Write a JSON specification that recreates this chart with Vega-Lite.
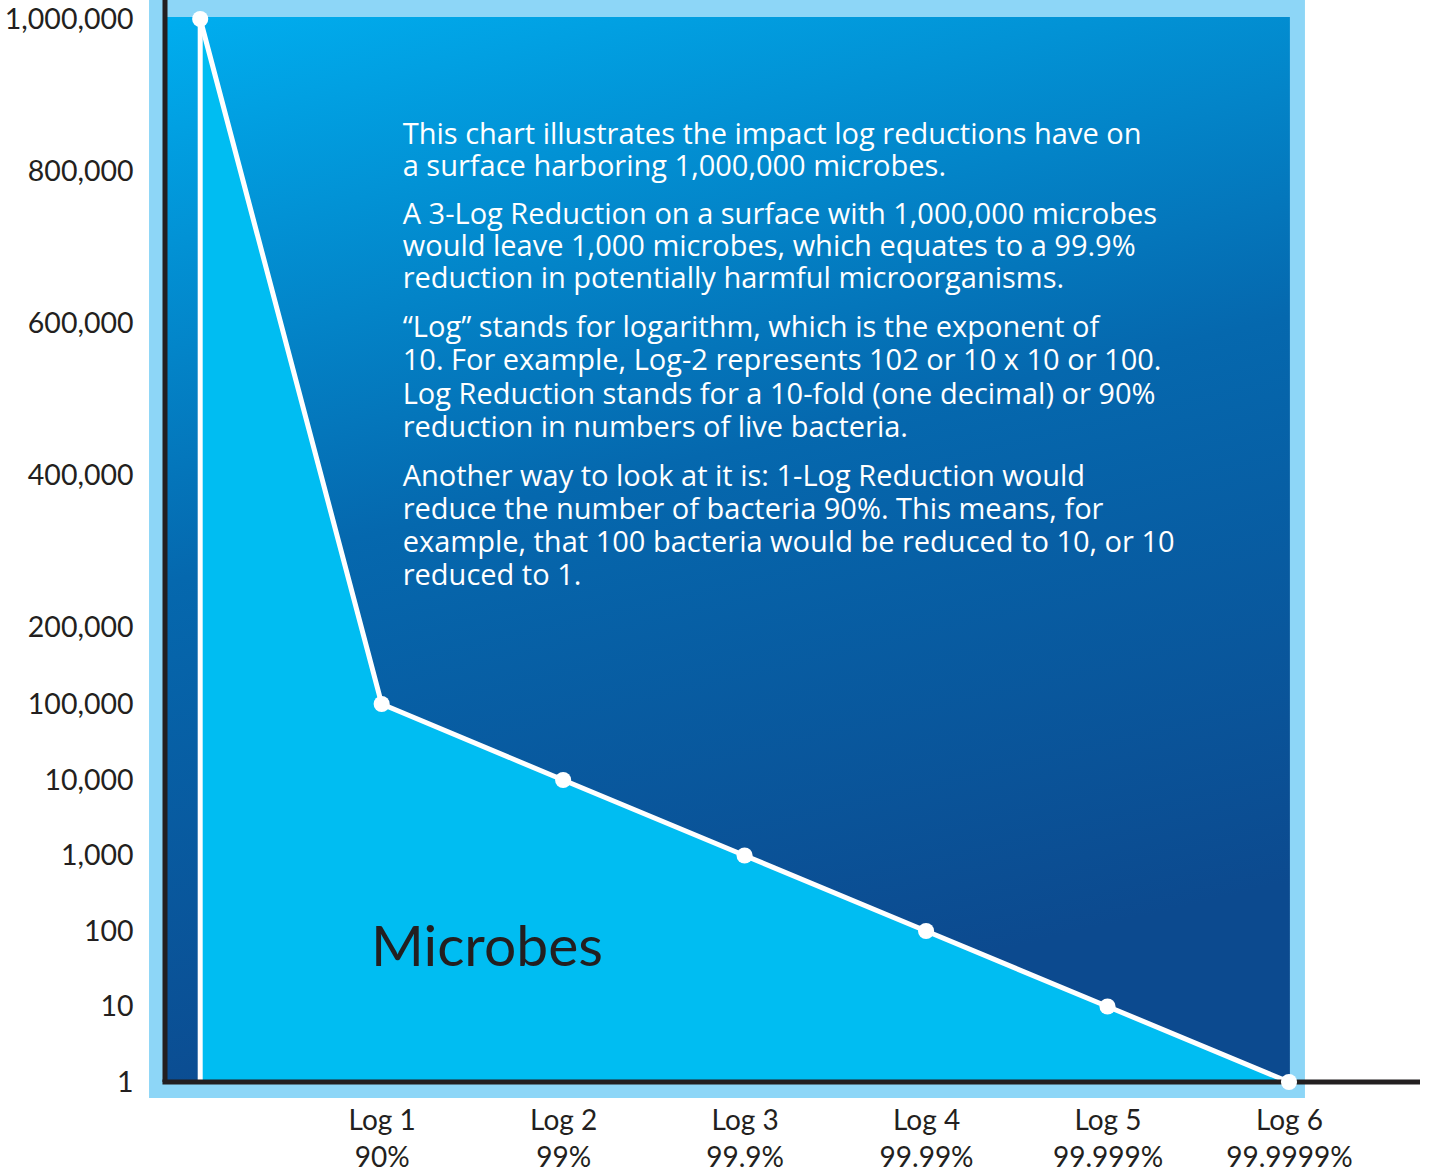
{
  "$schema": "https://vega.github.io/schema/vega-lite/v6.json",
  "autosize": {"type": "none"},
  "padding": {"left": 165, "top": 0, "right": 9, "bottom": 92},
  "width": 1255,
  "height": 1082,
  "background": "#ffffff",
  "config": {
    "view": {"stroke": null},
    "font": "Lato",
    "axis": {"labelFont": "Lato", "labelColor": "#231F20", "grid": false, "domain": false, "title": null, "tickColor": "#231F20", "zindex": 1}
  },
  "datasets": {
    "microbes": [
      {"log": 0, "microbes": 1000000},
      {"log": 1, "microbes": 100000},
      {"log": 2, "microbes": 10000},
      {"log": 3, "microbes": 1000},
      {"log": 4, "microbes": 100},
      {"log": 5, "microbes": 10},
      {"log": 6, "microbes": 1}
    ],
    "one": [{"id": 1}]
  },
  "layer": [
    {
      "data": {"name": "one"},
      "mark": {"type": "rect", "color": "#8DD6F7"},
      "encoding": {
        "x": {"datum": -0.282, "type": "quantitative"},
        "x2": {"datum": 6.088},
        "y": {"datum": 1025000, "type": "quantitative"},
        "y2": {"datum": -0.9}
      }
    },
    {
      "data": {"name": "one"},
      "mark": {
        "type": "rect",
        "color": {
          "gradient": "linear", "x1": 0, "y1": 0, "x2": 0.25, "y2": 1,
          "stops": [
            {"offset": 0, "color": "#00AEEF"},
            {"offset": 0.5, "color": "#0568AE"},
            {"offset": 1, "color": "#0C4A8F"}
          ]
        }
      },
      "encoding": {
        "x": {"datum": -0.194, "type": "quantitative"},
        "x2": {"datum": 6.005},
        "y": {"datum": 1002600, "type": "quantitative"},
        "y2": {"datum": 1}
      }
    },
    {
      "data": {"name": "microbes"},
      "mark": {"type": "area", "color": "#00BDF2"},
      "encoding": {
        "x": {
          "field": "log",
          "type": "quantitative",
          "scale": {"domain": [-0.194, 6.722], "nice": false, "zero": false},
          "axis": {
            "values": [1, 2, 3, 4, 5, 6],
            "tickSize": -17,
            "tickWidth": 2,
            "labelFontSize": 28,
            "labelPadding": 42,
            "labelLineHeight": 37,
            "labelBaseline": "top",
            "labelExpr": "['Log ' + datum.value, datum.value == 1 ? '90%' : datum.value == 2 ? '99%' : datum.value == 3 ? '99.9%' : datum.value == 4 ? '99.99%' : datum.value == 5 ? '99.999%' : '99.9999%']"
          }
        },
        "y": {
          "field": "microbes",
          "type": "quantitative",
          "scale": {
            "domain": [1, 10, 100, 1000, 10000, 100000, 1000000, 1025000],
            "range": [1082, 1006.5, 931, 855.5, 780, 704, 19, 0],
            "nice": false,
            "zero": false
          },
          "axis": {
            "values": [1, 10, 100, 1000, 10000, 100000, 200000, 400000, 600000, 800000, 1000000],
            "labelExpr": "format(datum.value, ',')",
            "tickSize": -18,
            "tickWidth": 3,
            "labelFontSize": 28.5,
            "labelPadding": 50
          }
        },
        "y2": {"datum": 1}
      }
    },
    {
      "data": {"name": "microbes"},
      "transform": [{"filter": "datum.log == 0"}],
      "mark": {"type": "rule", "color": "#ffffff", "strokeWidth": 5},
      "encoding": {
        "x": {"field": "log", "type": "quantitative"},
        "y": {"field": "microbes", "type": "quantitative"},
        "y2": {"datum": 1}
      }
    },
    {
      "data": {"name": "microbes"},
      "mark": {"type": "line", "color": "#ffffff", "strokeWidth": 5},
      "encoding": {
        "x": {"field": "log", "type": "quantitative"},
        "y": {"field": "microbes", "type": "quantitative"}
      }
    },
    {
      "data": {"name": "one"},
      "mark": {"type": "rule", "color": "#231F20", "strokeWidth": 5},
      "encoding": {
        "x": {"datum": -0.194, "type": "quantitative"},
        "y": {"datum": 1, "type": "quantitative"},
        "y2": {"datum": 1025000}
      }
    },
    {
      "data": {"name": "one"},
      "mark": {"type": "rule", "color": "#231F20", "strokeWidth": 5},
      "encoding": {
        "x": {"datum": -0.208, "type": "quantitative"},
        "x2": {"datum": 6.722},
        "y": {"datum": 1, "type": "quantitative"}
      }
    },
    {
      "data": {"name": "microbes"},
      "mark": {"type": "circle", "color": "#ffffff", "opacity": 1, "size": 260},
      "encoding": {
        "x": {"field": "log", "type": "quantitative"},
        "y": {"field": "microbes", "type": "quantitative"}
      }
    },
    {
      "data": {"values": [{"lines": ["This chart illustrates the impact log reductions have on", "a surface harboring 1,000,000 microbes."]}]},
      "mark": {"type": "text", "align": "left", "baseline": "alphabetic", "color": "#ffffff", "fontSize": 29, "lineHeight": 32, "font": "Open Sans"},
      "encoding": {"x": {"datum": 1.116, "type": "quantitative"}, "y": {"datum": 835700, "type": "quantitative"}, "text": {"field": "lines"}}
    },
    {
      "data": {"values": [{"lines": ["A 3-Log Reduction on a surface with 1,000,000 microbes", "would leave 1,000 microbes, which equates to a 99.9%", "reduction in potentially harmful microorganisms."]}]},
      "mark": {"type": "text", "align": "left", "baseline": "alphabetic", "color": "#ffffff", "fontSize": 29, "lineHeight": 32, "font": "Open Sans"},
      "encoding": {"x": {"datum": 1.116, "type": "quantitative"}, "y": {"datum": 730600, "type": "quantitative"}, "text": {"field": "lines"}}
    },
    {
      "data": {"values": [{"lines": ["“Log” stands for logarithm, which is the exponent of", "10. For example, Log-2 represents 102 or 10 x 10 or 100.", "Log Reduction stands for a 10-fold (one decimal) or 90%", "reduction in numbers of live bacteria."]}]},
      "mark": {"type": "text", "align": "left", "baseline": "alphabetic", "color": "#ffffff", "fontSize": 29, "lineHeight": 33.3, "font": "Open Sans"},
      "encoding": {"x": {"datum": 1.116, "type": "quantitative"}, "y": {"datum": 582100, "type": "quantitative"}, "text": {"field": "lines"}}
    },
    {
      "data": {"values": [{"lines": ["Another way to look at it is: 1-Log Reduction would", "reduce the number of bacteria 90%. This means, for", "example, that 100 bacteria would be reduced to 10, or 10", "reduced to 1."]}]},
      "mark": {"type": "text", "align": "left", "baseline": "alphabetic", "color": "#ffffff", "fontSize": 29, "lineHeight": 33, "font": "Open Sans"},
      "encoding": {"x": {"datum": 1.116, "type": "quantitative"}, "y": {"datum": 386300, "type": "quantitative"}, "text": {"field": "lines"}}
    },
    {
      "data": {"values": [{"label": "Microbes"}]},
      "mark": {"type": "text", "align": "left", "baseline": "alphabetic", "color": "#231F20", "fontSize": 57, "font": "Lato"},
      "encoding": {"x": {"datum": 0.941, "type": "quantitative"}, "y": {"datum": 58, "type": "quantitative"}, "text": {"field": "label"}}
    }
  ]
}
